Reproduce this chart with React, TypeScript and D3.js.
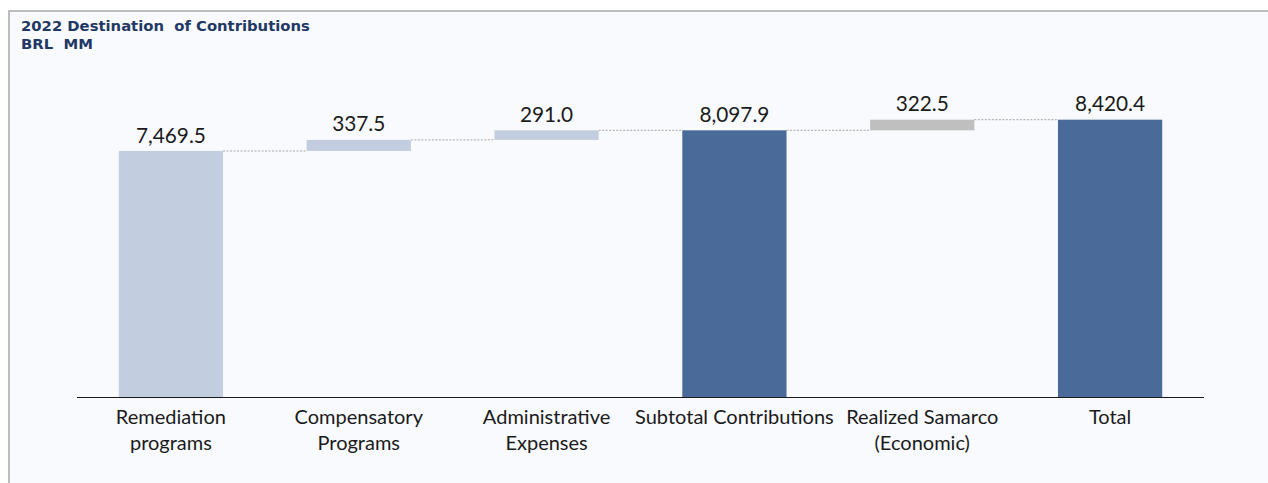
import React from "react";
import * as d3 from "d3";

const categories = ["Remediation\nprograms", "Compensatory\nPrograms", "Administrative\nExpenses", "Subtotal Contributions", "Realized Samarco\n(Economic)", "Total"];
const values = [7469.5, 337.5, 291.0, 8097.9, 322.5, 8420.4];
const kinds = ["delta", "delta", "delta", "total", "delta2", "total"];
const valueLabels = ["7,469.5", "337.5", "291.0", "8,097.9", "322.5", "8,420.4"];

const W = 1268, H = 483;
const colors: Record<string, string> = { delta: "#c3cde0", total: "#4a6b9a", delta2: "#bfbfbf" };

export default function App() {
  const x = d3.scaleBand<number>().domain(d3.range(categories.length)).range([77, 1204]).paddingInner(0.445).paddingOuter(0.2225);
  const y = d3.scaleLinear().domain([0, 9000]).range([397, 100.6]);

  let cum = 0;
  const segs = values.map((v, i) => {
    let y0: number, y1: number;
    if (kinds[i] === "total") { y0 = 0; y1 = v; cum = v; }
    else { y0 = cum; y1 = cum + v; cum = y1; }
    return { i, y0, y1 };
  });

  return (
    <div style={{ position: "fixed", left: 0, top: 0, width: W, height: H, overflow: "hidden" }}>
      <svg width={W} height={H} style={{ display: "block" }}>
        <rect x={0} y={0} width={W} height={H} fill="#ffffff" />
        <rect x={9} y={11} width={W - 9} height={H - 11} fill="#f9fafe" />
        <line x1={9} y1={11} x2={W} y2={11} stroke="#bdbdbd" strokeWidth={2} />
        <line x1={9} y1={10} x2={9} y2={H} stroke="#bdbdbd" strokeWidth={2} />
        <text x={21} y={31} fontFamily="DejaVu Sans" fontWeight="bold" fontSize={14.8} fill="#1f3864" xmlSpace="preserve">2022 Destination  of Contributions</text>
        <text x={21} y={48.5} fontFamily="DejaVu Sans" fontWeight="bold" fontSize={14.8} fill="#1f3864" xmlSpace="preserve">BRL  MM</text>
        {segs.slice(0, -1).map((s, k) => {
          const nx = x(k + 1)!;
          return (
            <line key={"c" + k} x1={x(k)! + x.bandwidth()} x2={nx} y1={y(s.y1)} y2={y(s.y1)}
              stroke="#a6a6a6" strokeWidth={1} strokeDasharray="2,1.5" />
          );
        })}
        {segs.map((s) => (
          <rect key={"b" + s.i} x={x(s.i)} width={x.bandwidth()} y={y(s.y1)} height={y(s.y0) - y(s.y1)} fill={colors[kinds[s.i]]} />
        ))}
        {segs.map((s) => (
          <text key={"v" + s.i} x={x(s.i)! + x.bandwidth() / 2} y={y(s.y1) - 8.5} textAnchor="middle"
            fontFamily="Lato" fontSize={20.8} fill="#1a1a1a">{valueLabels[s.i]}</text>
        ))}
        <line x1={77} x2={1204} y1={397.5} y2={397.5} stroke="#1a1a1a" strokeWidth={1} />
        {categories.map((c, i) => (
          <text key={"l" + i} x={x(i)! + x.bandwidth() / 2} textAnchor="middle" fontFamily="Lato" fontSize={20} fill="#1a1a1a">
            {c.split("\n").map((ln, j) => (
              <tspan key={j} x={x(i)! + x.bandwidth() / 2} y={423.5 + j * 26.5}>{ln}</tspan>
            ))}
          </text>
        ))}
      </svg>
    </div>
  );
}
